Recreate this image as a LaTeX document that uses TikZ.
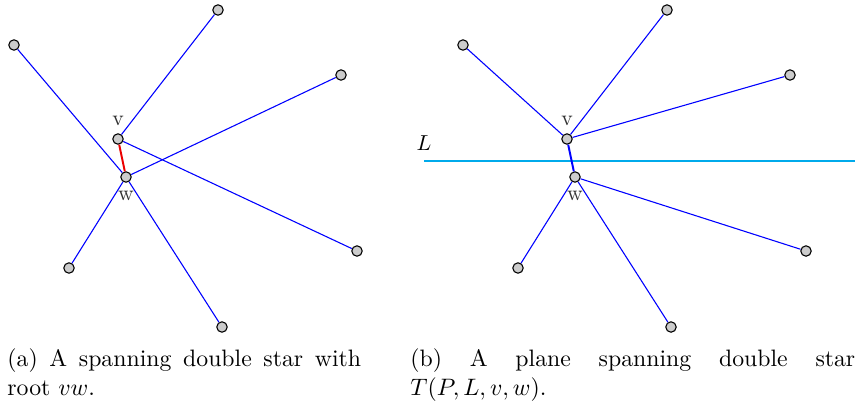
\documentclass[tikz,border=0pt]{standalone}
\usepackage{amsmath, amssymb}
\usepackage{xcolor}
\usepackage{tikz}
\usetikzlibrary{positioning}
\definecolor{edgeblue}{RGB}{0, 0, 255}
\definecolor{rootred}{RGB}{235, 0, 0}
\definecolor{lineblue}{RGB}{0, 170, 235}

\begin{document}
\begin{tikzpicture}[x=0.4608pt, y=-0.4608pt,
    vtx/.style={circle, draw=black, fill=black!20, line width=0.5pt, inner sep=0pt, minimum size=4.8pt},
    lbl/.style={font=\normalsize, text=black!80, inner sep=1pt},
    staredge/.style={edgeblue, line width=0.5pt},
    captext/.style={anchor=base west, inner sep=0pt, align=justify, font=\fontsize{10.95}{13.6}\selectfont}]
  \useasboundingbox (0,0) rectangle (857,405);

  % --- Left: double star with root vw ---
  \begin{scope}
    \node[vtx] (av) at (118,139) {};
    \node[vtx] (aw) at (126,177) {};
    \foreach \n/\x/\y in {1/14/45, 2/218/10, 3/341/75, 4/69/268, 5/357/251, 6/222/327}{
      \node[vtx] (a\n) at (\x,\y) {};
    }
    % leaves of v and of w
    \foreach \n in {2,5}{
      \draw[staredge] (av) -- (a\n);
    }
    \foreach \n in {1,3,4,6}{
      \draw[staredge] (aw) -- (a\n);
    }
    \draw[rootred, line width=0.9pt] (av) -- (aw);
    \node[lbl, above=2.3pt of av] (avl) {v};
    \node[lbl, below=2.7pt of aw] (awl) {w};
    \node[captext, text width=163pt] (acap) at (7,366)
      {(a) A spanning double star with\linebreak root $vw$.};
  \end{scope}

  % --- Right: plane double star T(P,L,v,w) ---
  \begin{scope}[xshift=206.9pt]
    \coordinate (Ls) at (-25,161);
    \coordinate (Le) at (406,161);
    \draw[lineblue, line width=1.1pt] (Ls) -- (Le);
    \node[font=\normalsize, inner sep=0pt] (Ll) at (-25,143) {$L$};
    \node[vtx] (bv) at (118,139) {};
    \node[vtx] (bw) at (126,177) {};
    \foreach \n/\x/\y in {1/14/45, 2/218/10, 3/341/75, 4/69/268, 5/357/251, 6/222/327}{
      \node[vtx] (b\n) at (\x,\y) {};
    }
    % v takes the points above L, w those below
    \foreach \n in {1,2,3}{
      \draw[staredge] (bv) -- (b\n);
    }
    \foreach \n in {4,5,6}{
      \draw[staredge] (bw) -- (b\n);
    }
    \draw[edgeblue, line width=0.9pt] (bv) -- (bw);
    \node[lbl, above=2.3pt of bv] (bvl) {v};
    \node[lbl, below=2.7pt of bw] (bwl) {w};
    \node[captext, text width=205pt] (bcap) at (-39,366)
      {(b) A plane spanning double star\linebreak $T(P,L,v,w)$.};
  \end{scope}
\end{tikzpicture}
\end{document}
